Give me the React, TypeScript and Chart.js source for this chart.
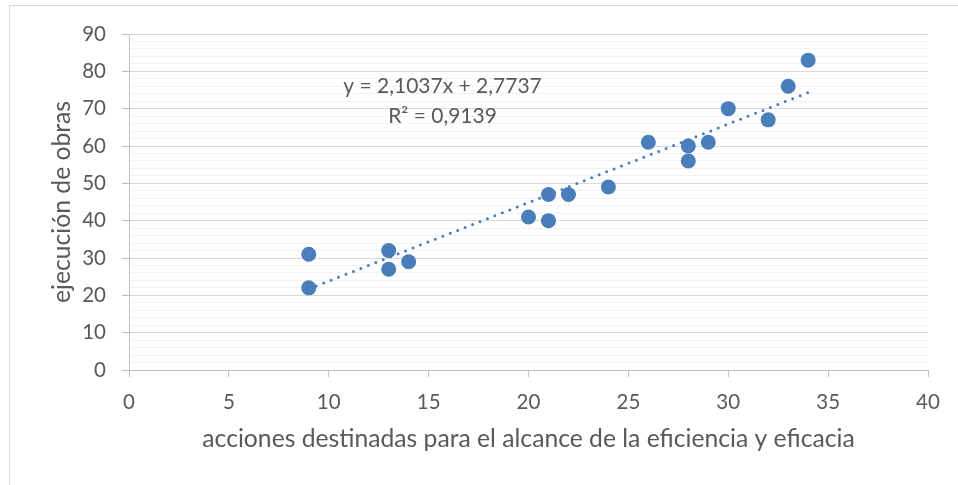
import React, { useEffect, useRef } from "react";
import { Chart, registerables } from "chart.js";

Chart.register(...registerables);

// ---- data ----
const xValues = [9, 9, 13, 13, 14, 20, 21, 21, 22, 24, 26, 28, 28, 29, 30, 32, 33, 34];
const yValues = [31, 22, 32, 27, 29, 41, 47, 40, 47, 49, 61, 60, 56, 61, 70, 67, 76, 83];
const trendSlope = 2.1037;
const trendIntercept = 2.7737;
const trendRange = [9, 34];
const equationLines = ["y = 2,1037x + 2,7737", "R² = 0,9139"];
const xAxisTitle = "acciones destinadas para el alcance de la eficiencia y eficacia";
const yAxisTitle = "ejecución de obras";

const FONT = "Lato";
const TEXT = "#595959";
const POINT = "#4A7EBB";

export default function App() {
  const ref = useRef<HTMLCanvasElement | null>(null);

  useEffect(() => {
    const canvas = ref.current;
    if (!canvas) return;
    const points = xValues.map((x, i) => ({ x, y: yValues[i] }));
    const trend = trendRange.map((x) => ({ x, y: trendSlope * x + trendIntercept }));

    const equationPlugin = {
      id: "equation",
      afterDatasetsDraw(chart: any) {
        const { ctx, chartArea } = chart;
        const cx = chartArea.left + (chartArea.right - chartArea.left) * 0.3924;
        const cy = chartArea.top + 52.2;
        ctx.save();
        ctx.fillStyle = TEXT;
        ctx.font = `21px ${FONT}`;
        ctx.textAlign = "center";
        ctx.textBaseline = "middle";
        equationLines.forEach((t, i) => ctx.fillText(t, cx, cy + i * 30));
        ctx.restore();
      },
    };

    const chart = new Chart(canvas, {
      type: "scatter",
      data: {
        datasets: [
          {
            type: "line",
            data: trend,
            borderColor: POINT,
            borderWidth: 3,
            borderDash: [0, 8],
            borderCapStyle: "round",
            pointRadius: 0,
            fill: false,
          } as any,
          {
            data: points,
            backgroundColor: POINT,
            borderColor: POINT,
            borderWidth: 0,
            pointRadius: 7.5,
          },
        ],
      },
      options: {
        animation: false,
        responsive: false,
        maintainAspectRatio: false,
        layout: { padding: { left: 0, top: 34, right: 30, bottom: 0 } },
        plugins: { legend: { display: false }, tooltip: { enabled: false } },
        scales: {
          x: {
            type: "linear",
            min: 0,
            max: 40,
            ticks: {
              stepSize: 5,
              color: TEXT,
              font: { family: FONT, size: 20.5 },
              padding: 12.6,
              maxRotation: 0,
              autoSkip: false,
            },
            grid: { drawOnChartArea: false, tickLength: 7, tickColor: "#BFBFBF" },
            border: { color: "#BFBFBF", width: 1, z: 1 },
            title: {
              display: true,
              text: xAxisTitle,
              color: TEXT,
              font: { family: FONT, size: 24.7 },
              padding: { top: 0, bottom: 30.8 },
            },
            afterFit: (s: any) => {
              s.height = 115;
            },
          },
          y: {
            type: "linear",
            min: 0,
            max: 90,
            ticks: {
              stepSize: 2,
              autoSkip: false,
              color: TEXT,
              font: { family: FONT, size: 20.5 },
              padding: 16,
              callback: (v: any) => (Number(v) % 10 === 0 ? String(v) : ""),
            },
            grid: {
              tickLength: 7,
              color: (c: any) => (c.tick && c.tick.value % 10 === 0 ? "#D9D9D9" : "#F2F2F2"),
              tickColor: (c: any) => (c.tick && c.tick.value % 10 === 0 ? "#BFBFBF" : "rgba(0,0,0,0)"),
            },
            border: { color: "#BFBFBF", width: 1, z: 1 },
            title: {
              display: true,
              text: yAxisTitle,
              color: TEXT,
              font: { family: FONT, size: 24.7 },
              padding: { top: 47.4, bottom: 0 },
            },
            afterFit: (s: any) => {
              s.width = 129;
            },
          },
        },
      },
      plugins: [equationPlugin],
    });
    return () => chart.destroy();
  }, []);

  return (
    <div style={{ position: "absolute", left: 0, top: 0, width: 958, height: 485, overflow: "hidden", background: "#fff" }}>
      <div
        style={{
          position: "absolute",
          left: 9,
          top: 5,
          width: 980,
          height: 500,
          border: "1px solid #D9D9D9",
          boxSizing: "border-box",
        }}
      />
      <canvas
        ref={ref}
        width={958}
        height={485}
        style={{ position: "absolute", left: 0, top: 0, width: 958, height: 485 }}
      />
    </div>
  );
}
